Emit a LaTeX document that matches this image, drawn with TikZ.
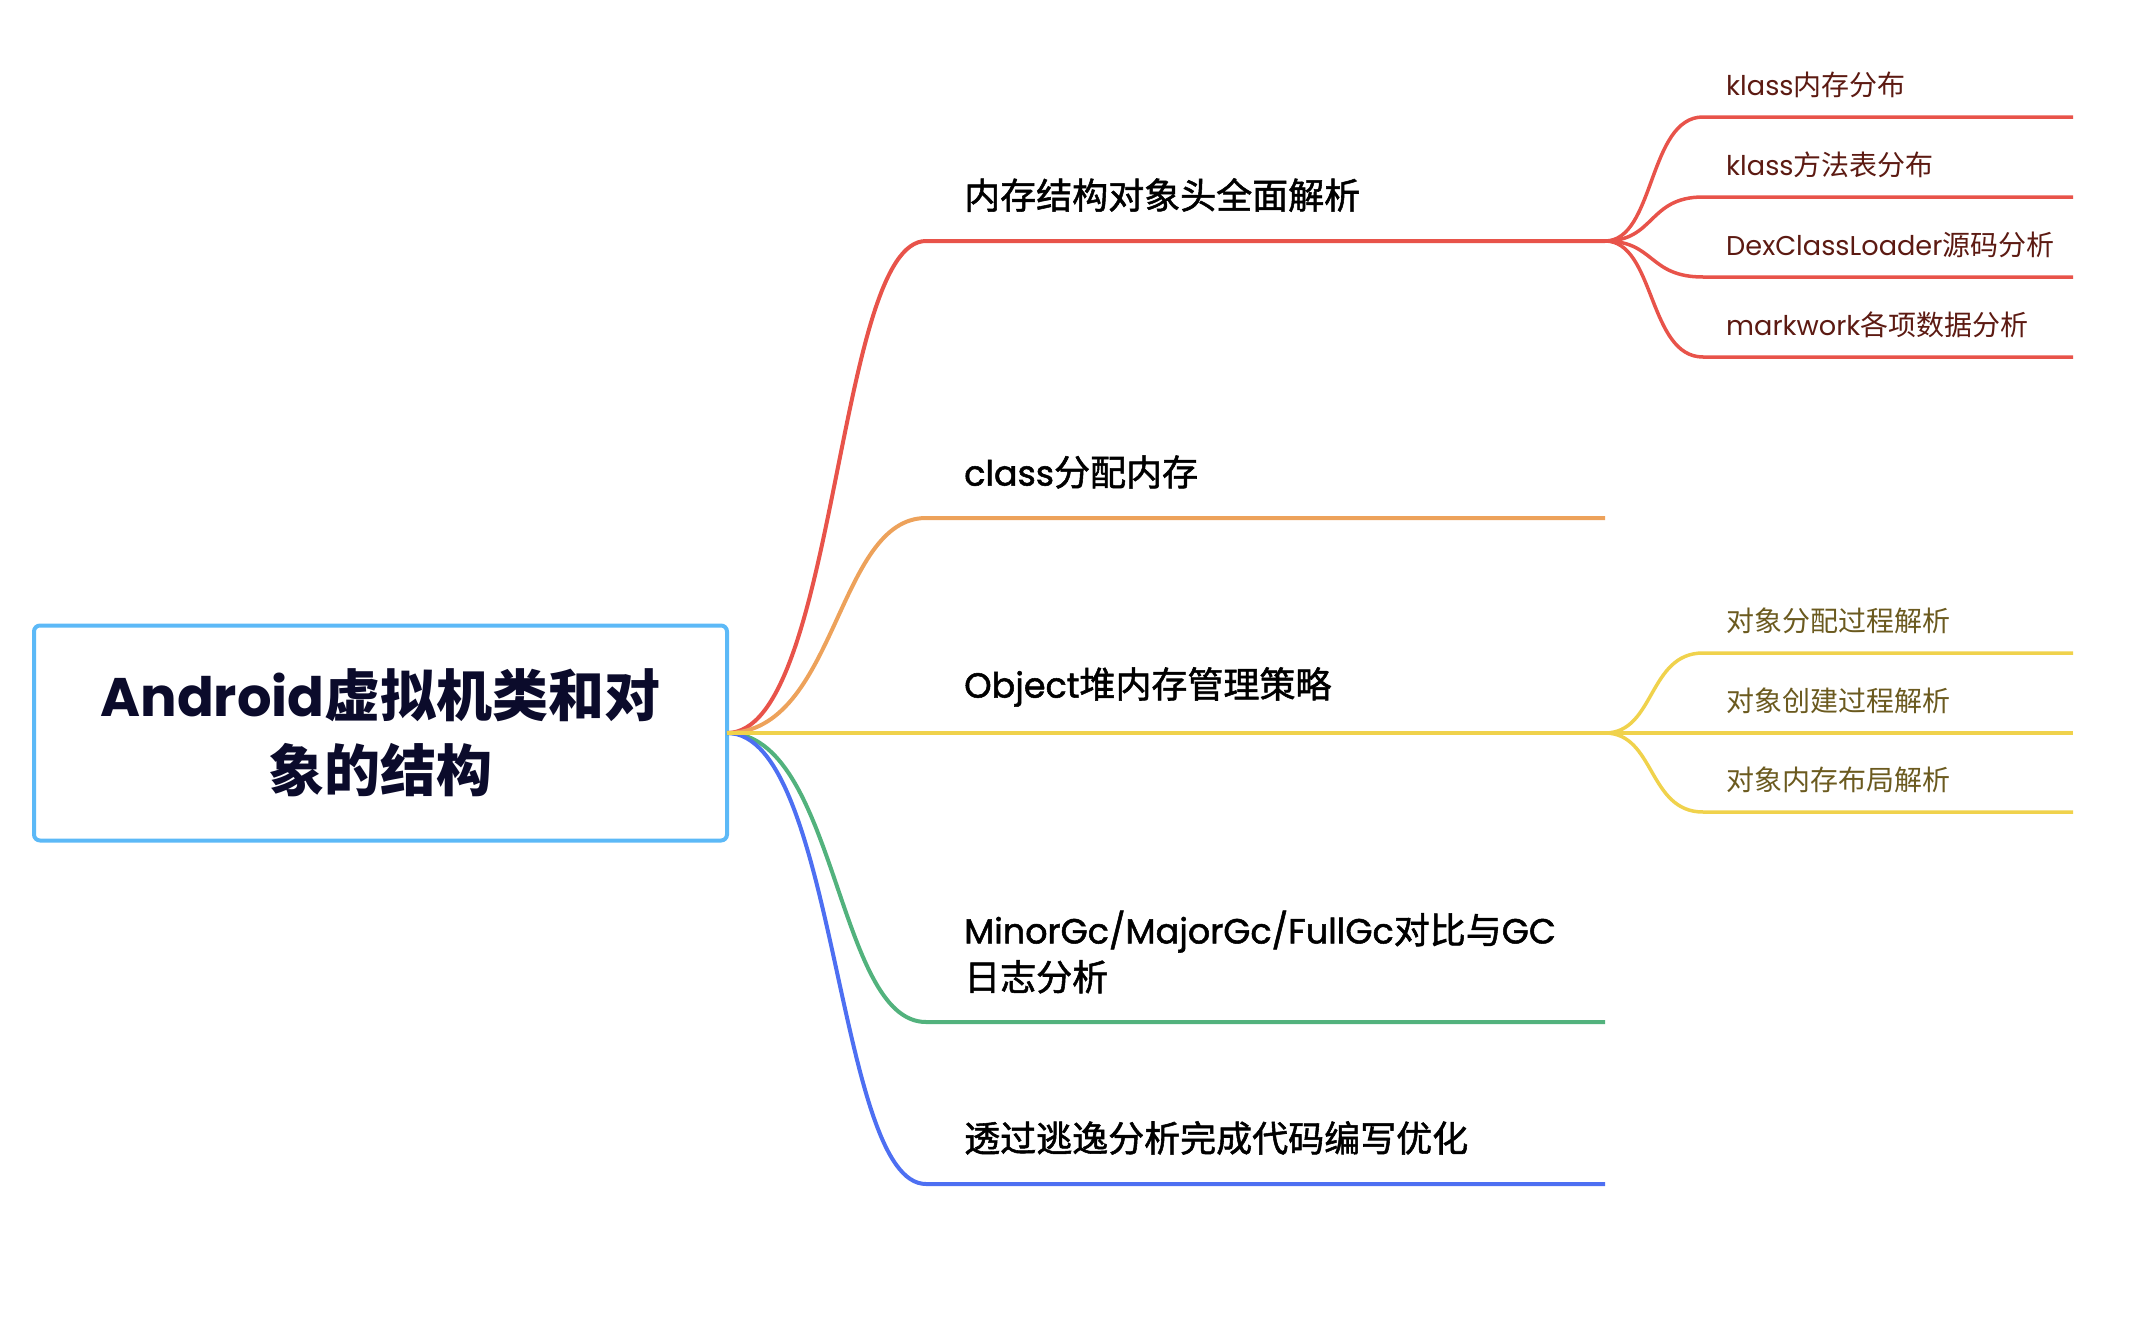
\documentclass[tikz,border=0pt]{standalone}
\usepackage{fontspec}
\setmainfont{Noto Sans CJK SC}
\newfontfamily\latin{Poppins}[Scale=0.97]
\newfontfamily\cjkmid{Noto Sans CJK SC}[FakeBold=1.5]
\newfontfamily\latinmid{Poppins}[Scale=0.97, FakeBold=1.5]
\usetikzlibrary{positioning, calc}
\definecolor{rootblue}{HTML}{5CB9F7}
\definecolor{rootink}{HTML}{0B0B2B}
\definecolor{redbr}{HTML}{E8534A}
\definecolor{orangebr}{HTML}{EDA25B}
\definecolor{yellowbr}{HTML}{F0D24C}
\definecolor{greenbr}{HTML}{52B27D}
\definecolor{bluebr}{HTML}{4D6FF2}
\definecolor{redink}{HTML}{5C1A12}
\definecolor{yellowink}{HTML}{6B5A1F}
\let\enfam\latin
\newcommand\en[1]{{\enfam #1}}
\tikzstyle{central} = [rectangle, rounded corners=6pt, draw=rootblue, line width=4pt, outer sep=0pt, fill=white, minimum width=693pt, minimum height=215pt, align=center, text=rootink, font=\fontsize{56}{75}\selectfont\bfseries]
\tikzstyle{topic} = [anchor=west, inner sep=0pt, align=left, font=\fontsize{36}{47}\selectfont\cjkmid\let\enfam\latinmid]
\tikzstyle{subtopic} = [anchor=west, inner sep=0pt, font=\fontsize{28}{34}\selectfont]
\tikzstyle{branch} = [line width=4pt]
\tikzstyle{twig} = [line width=3.5pt]

\begin{document}
\begin{tikzpicture}[x=1pt, y=-1pt]
  \useasboundingbox (0,0) rectangle (2136,1330);

  \node (android) [central] at (380.5,733) {\en{Android}虚拟机类和对\\象的结构};

  % main topics
  \coordinate (memhead) at (926,241);
  \coordinate (memhead-end) at (1605,241);
  \coordinate (clsmem) at (926,518);
  \coordinate (clsmem-end) at (1605,518);
  \coordinate (heap) at (926,733);
  \coordinate (heap-end) at (1605,733);
  \coordinate (gclog) at (926,1022);
  \coordinate (gclog-end) at (1605,1022);
  \coordinate (escape) at (926,1184);
  \coordinate (escape-end) at (1605,1184);

  \draw [branch, redbr] (android.east) .. controls +(110,0) and +(-90,0) .. (memhead) -- (memhead-end);
  \draw [branch, orangebr] (android.east) .. controls +(110,0) and +(-90,0) .. (clsmem) -- (clsmem-end);
  \draw [branch, greenbr] (android.east) .. controls +(110,0) and +(-90,0) .. (gclog) -- (gclog-end);
  \draw [branch, bluebr] (android.east) .. controls +(110,0) and +(-90,0) .. (escape) -- (escape-end);
  \draw [branch, yellowbr] (android.east) -- (heap) -- (heap-end);

  \node (memhead-lbl) [topic] at ($(memhead)+(38,-46)$) {内存结构对象头全面解析};
  \node (clsmem-lbl) [topic] at ($(clsmem)+(38,-46)$) {\en{class}分配内存};
  \node (heap-lbl) [topic] at ($(heap)+(38,-46)$) {\en{Object}堆内存管理策略};
  \node (gclog-lbl) [topic] at ($(gclog)+(38,-70)$) {\en{MinorGc/MajorGc/FullGc}对比与\en{GC}\\日志分析};
  \node (escape-lbl) [topic] at ($(escape)+(38,-46)$) {透过逃逸分析完成代码编写优化};

  % red subtopics
  \coordinate (klassmem) at (1703,117);
  \coordinate (klassmem-end) at (2073,117);
  \coordinate (klassvt) at (1703,197);
  \coordinate (klassvt-end) at (2073,197);
  \coordinate (dexcl) at (1703,277);
  \coordinate (dexcl-end) at (2073,277);
  \coordinate (markwork) at (1703,357);
  \coordinate (markwork-end) at (2073,357);

  \draw [twig, redbr] (memhead-end) .. controls +(50,0) and +(-55,0) .. (klassmem) -- (klassmem-end);
  \draw [twig, redbr] (memhead-end) .. controls +(50,0) and +(-55,0) .. (klassvt) -- (klassvt-end);
  \draw [twig, redbr] (memhead-end) .. controls +(50,0) and +(-55,0) .. (dexcl) -- (dexcl-end);
  \draw [twig, redbr] (memhead-end) .. controls +(50,0) and +(-55,0) .. (markwork) -- (markwork-end);

  \node (klassmem-lbl) [subtopic, text=redink] at ($(klassmem)+(23,-32)$) {\en{klass}内存分布};
  \node (klassvt-lbl) [subtopic, text=redink] at ($(klassvt)+(23,-32)$) {\en{klass}方法表分布};
  \node (dexcl-lbl) [subtopic, text=redink] at ($(dexcl)+(23,-32)$) {\en{DexClassLoader}源码分析};
  \node (markwork-lbl) [subtopic, text=redink] at ($(markwork)+(23,-32)$) {\en{markwork}各项数据分析};

  % yellow subtopics
  \coordinate (alloc) at (1703,653);
  \coordinate (alloc-end) at (2073,653);
  \coordinate (create) at (1703,733);
  \coordinate (create-end) at (2073,733);
  \coordinate (layout) at (1703,812);
  \coordinate (layout-end) at (2073,812);

  \draw [twig, yellowbr] (heap-end) .. controls +(50,0) and +(-55,0) .. (alloc) -- (alloc-end);
  \draw [twig, yellowbr] (heap-end) -- (create) -- (create-end);
  \draw [twig, yellowbr] (heap-end) .. controls +(50,0) and +(-55,0) .. (layout) -- (layout-end);

  \node (alloc-lbl) [subtopic, text=yellowink] at ($(alloc)+(23,-32)$) {对象分配过程解析};
  \node (create-lbl) [subtopic, text=yellowink] at ($(create)+(23,-32)$) {对象创建过程解析};
  \node (layout-lbl) [subtopic, text=yellowink] at ($(layout)+(23,-32)$) {对象内存布局解析};

\end{tikzpicture}
\end{document}
